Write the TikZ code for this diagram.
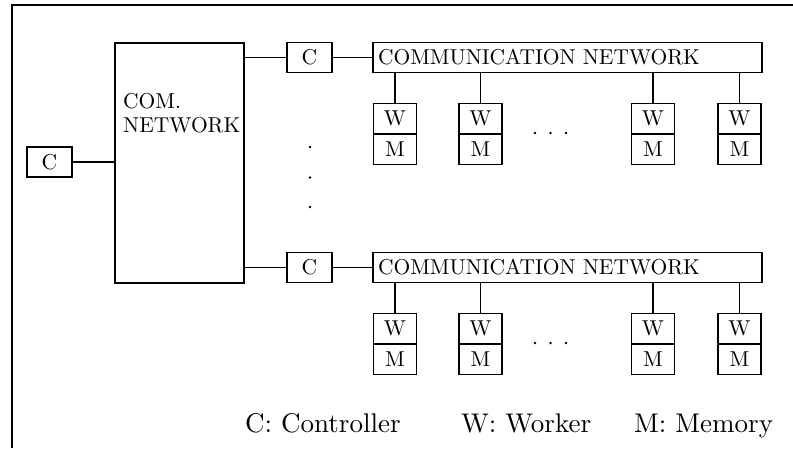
\documentclass[tikz,border=0pt]{standalone}
\usepackage{graphicx}
\newcommand\bt[1]{\scalebox{2.15}{#1}}
\newcommand\lt[1]{\scalebox{2.7}{#1}}
\begin{document}
\begin{tikzpicture}[x=1pt,y=-1pt,
  lw/.style={line width=1.8pt},
  box/.style={draw,lw,inner sep=0pt,outer sep=0pt,font=\fontsize{10}{11.2}\selectfont},
  cbox/.style={box,minimum width=45pt,minimum height=30pt},
  wbox/.style={box,minimum width=43pt,minimum height=30.5pt},
  netbox/.style={box,minimum height=30pt,text width=379pt,align=left,inner xsep=5pt},
  legend/.style={anchor=base west,inner sep=0pt,font=\fontsize{10}{12}\selectfont},
  dot/.style={circle,fill,inner sep=0pt,minimum size=2.8pt}]
\useasboundingbox (0,0) rectangle (793,448);
% frame
\draw[lw] (12,448) -- (12,5) -- (793,5);
% big network
\node[draw,lw,outer sep=0pt,minimum width=129pt,minimum height=240pt,inner sep=0pt] (big) at (179.5,163) {};
\node[anchor=north west,inner sep=0pt,font=\fontsize{10}{11.2}\selectfont] (bigtext) at (123,91) {\bt{\begin{tabular}{@{}l@{}}COM.\\NETWORK\end{tabular}}};
% left controller
\node[cbox] (c0) at (49.5,162) {\bt{C}};
\draw[lw] (c0.east) -- (c0.east -| big.west);
% rows
\foreach \r/\dy in {a/0,b/210}{
  \node[cbox] (c\r) at (309.5,57.5+\dy) {\bt{C}};
  \node[netbox] (n\r) at (567.5,57.5+\dy) {\bt{COMMUNICATION NETWORK}};
  \draw[lw] (c\r.west -| big.east) -- (c\r.west);
  \draw[lw] (c\r.east) -- (c\r.east -| n\r.west);
  \foreach \i/\x in {1/395,2/480.5,3/653,4/739.5}{
    \node[wbox,anchor=south] (w\r\i) at (\x,134+\dy) {\bt{W}};
    \node[wbox,anchor=north] (m\r\i) at (\x,134+\dy) {\bt{M}};
    \draw[lw] (w\r\i.north |- n\r.south) -- (w\r\i.north);
  }
  \foreach \x [count=\k] in {535,550.5,566}
    \node[dot] (hd\r\k) at (\x,133+\dy) {};
}
% vertical dots
\foreach \y [count=\k] in {147,177.5,207}
  \node[dot] (vd\k) at (310,\y) {};
% legend
\node[legend] (l1) at (245,432) {\lt{C: Controller}};
\node[legend] (l2) at (461,432) {\lt{W: Worker}};
\node[legend] (l3) at (634,432) {\lt{M: Memory}};
\end{tikzpicture}
\end{document}
